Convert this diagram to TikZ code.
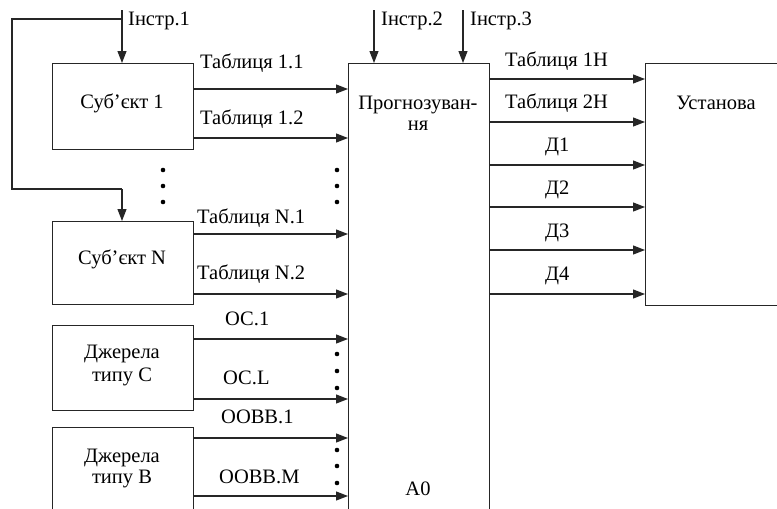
\documentclass[tikz,border=0pt]{standalone}
\usepackage{fontspec}
\setmainfont{Liberation Serif}
\usetikzlibrary{arrows.meta}
\begin{document}
\begin{tikzpicture}[x=1pt,y=-1pt,
  font=\fontsize{20.5}{23}\selectfont,
  box/.style={draw=black!85, line width=1.2pt, inner sep=0, anchor=north west},
  arr/.style={draw=black!85, line width=1.2pt, -{Triangle[length=12pt,width=9pt]}},
  ln/.style={draw=black!85, line width=1.2pt},
  lbl/.style={inner sep=0, anchor=base west},
  ctr/.style={inner sep=0, anchor=base},
  dot/.style={circle, fill=black, inner sep=0, minimum size=4.6pt}]
\useasboundingbox (0,0) rectangle (777,509);
\clip (0,0) rectangle (777,509);

% blocks
\node[box, minimum width=141pt, minimum height=86pt] (s1) at (52,63) {};
\node[box, minimum width=141pt, minimum height=83pt] (sn) at (52,221) {};
\node[box, minimum width=141pt, minimum height=85pt] (sc) at (52,325) {};
\node[box, minimum width=141pt, minimum height=110pt] (sb) at (52,427) {};
\node[box, minimum width=141pt, minimum height=480pt] (pr) at (348,63) {};
\node[box, minimum width=160pt, minimum height=242pt] (us) at (645,63) {};

% block texts
\node[ctr] (t1) at (122,108) {Суб’єкт 1};
\node[ctr] (tn) at (122,264) {Суб’єкт N};
\node[ctr] (tc1) at (122,358) {Джерела};
\node[ctr] (tc2) at (122,381) {типу С};
\node[ctr] (tb1) at (122,462) {Джерела};
\node[ctr] (tb2) at (122,483) {типу В};
\node[ctr] (tp1) at (418,109) {Прогнозуван-};
\node[ctr] (tp2) at (418,130) {ня};
\node[ctr] (ta0) at (418,495) {А0};
\node[ctr] (tu) at (716,109) {Установа};

% control inputs
\coordinate (i1) at (122,10);
\coordinate (i2) at (374,10);
\coordinate (i3) at (463,10);
\coordinate (k1) at (12,19);
\coordinate (k2) at (12,189);
\draw[arr] (i1) -- (i1 |- s1.north);
\draw[ln] (i1 |- k1) -- (k1) -- (k2) -- (i1 |- k2);
\draw[arr] (i1 |- k2) -- (i1 |- sn.north);
\draw[arr] (i2) -- (i2 |- pr.north);
\draw[arr] (i3) -- (i3 |- pr.north);
\node[lbl] (li1) at (128,25) {Інстр.1};
\node[lbl] (li2) at (381,25) {Інстр.2};
\node[lbl] (li3) at (470,25) {Інстр.3};

% inputs of the forecasting block
\draw[arr] (s1.east |- 0,89)  -- (pr.west |- 0,89);
\draw[arr] (s1.east |- 0,138) -- (pr.west |- 0,138);
\draw[arr] (sn.east |- 0,234) -- (pr.west |- 0,234);
\draw[arr] (sn.east |- 0,294) -- (pr.west |- 0,294);
\draw[arr] (sc.east |- 0,339) -- (pr.west |- 0,339);
\draw[arr] (sc.east |- 0,399) -- (pr.west |- 0,399);
\draw[arr] (sb.east |- 0,438) -- (pr.west |- 0,438);
\draw[arr] (sb.east |- 0,496) -- (pr.west |- 0,496);
\node[lbl] (l11) at (200,68)  {Таблиця 1.1};
\node[lbl] (l12) at (200,124) {Таблиця 1.2};
\node[lbl] (ln1) at (197,223) {Таблиця N.1};
\node[lbl] (ln2) at (197,279) {Таблиця N.2};
\node[lbl] (lc1) at (225,325) {ОС.1};
\node[lbl] (lcl) at (223,384) {ОС.L};
\node[lbl] (lb1) at (221,423) {OOBB.1};
\node[lbl] (lbm) at (219,483) {OOBB.M};

% outputs to the institution
\draw[arr] (pr.east |- 0,79)  -- (us.west |- 0,79);
\draw[arr] (pr.east |- 0,122) -- (us.west |- 0,122);
\draw[arr] (pr.east |- 0,165) -- (us.west |- 0,165);
\draw[arr] (pr.east |- 0,207) -- (us.west |- 0,207);
\draw[arr] (pr.east |- 0,250) -- (us.west |- 0,250);
\draw[arr] (pr.east |- 0,294) -- (us.west |- 0,294);
\node[lbl] (lo1) at (505,66)  {Таблиця 1Н};
\node[lbl] (lo2) at (505,108) {Таблиця 2Н};
\node[lbl] (ld1) at (545,151) {Д1};
\node[lbl] (ld2) at (545,194) {Д2};
\node[lbl] (ld3) at (545,237) {Д3};
\node[lbl] (ld4) at (545,280) {Д4};

% ellipsis dots
\foreach \yy [count=\k] in {170,186,202} {
  \node[dot] (da\k) at (163,\yy) {};
  \node[dot] (db\k) at (337,\yy) {};
}
\foreach \yy [count=\k] in {354,371,388} \node[dot] (dc\k) at (337,\yy) {};
\foreach \yy [count=\k] in {450,466,483} \node[dot] (dd\k) at (337,\yy) {};
\end{tikzpicture}
\end{document}
